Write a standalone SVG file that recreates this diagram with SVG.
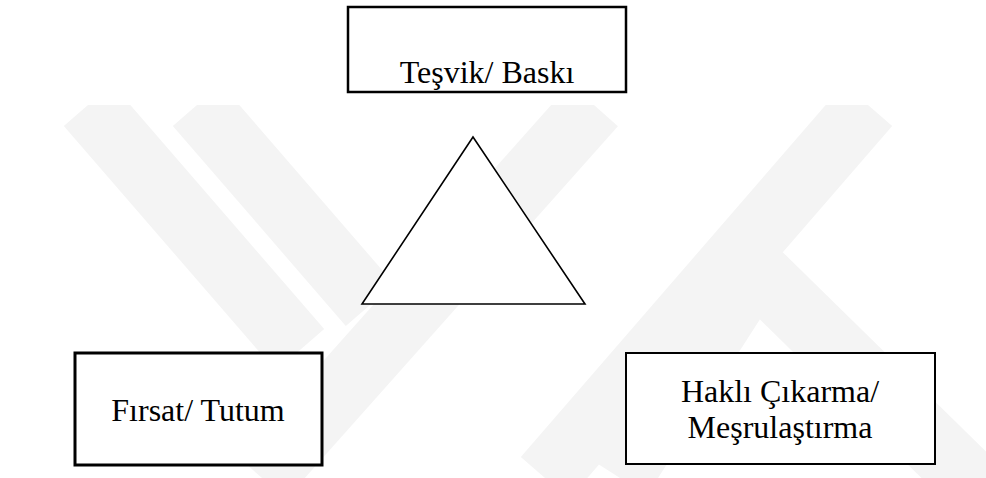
<svg xmlns="http://www.w3.org/2000/svg" width="986" height="478" viewBox="0 0 986 478">
  <style>
    .box { fill: #ffffff; stroke: #000000; }
    .label { font-family: 'Liberation Serif', 'DejaVu Serif', serif; font-size: 32px; fill: #000000; text-anchor: middle; }
    .mark { stroke: #f4f4f4; stroke-width: 64; fill: none; }
  </style>
  <defs>
    <clipPath id="markClip">
      <rect x="0" y="105" width="986" height="373"/>
    </clipPath>
  </defs>

  <!-- faint background emblem: diagonal bands -->
  <g id="emblem" clip-path="url(#markClip)">
    <line class="mark" x1="88" y1="105" x2="300" y2="350"/>
    <line class="mark" x1="197" y1="105" x2="370" y2="305"/>
    <line class="mark" x1="594" y1="105" x2="262" y2="478"/>
    <line class="mark" x1="868" y1="105" x2="545" y2="478"/>
    <line class="mark" x1="745" y1="260" x2="1010" y2="520"/>
    <line class="mark" x1="760" y1="260" x2="620" y2="478"/>
  </g>

  <g id="connectors"/>

  <g id="triangle">
    <polygon points="473,137 362,304 585,304" fill="#ffffff" stroke="#000000" stroke-width="1.6"/>
  </g>

  <g id="node-tesvik">
    <rect class="box" x="348" y="7" width="278" height="85" stroke-width="2.5"/>
    <text class="label" font-family="Liberation Serif, serif" x="487" y="83">Teşvik/ Baskı</text>
  </g>

  <g id="node-firsat">
    <rect class="box" x="75" y="353" width="247" height="112" stroke-width="3"/>
    <text class="label" font-family="Liberation Serif, serif" x="198" y="421">Fırsat/ Tutum</text>
  </g>

  <g id="node-hakli">
    <rect class="box" x="626" y="353" width="309" height="111" stroke-width="2"/>
    <text class="label" font-family="Liberation Serif, serif" x="780" y="402">Haklı Çıkarma/</text>
    <text class="label" font-family="Liberation Serif, serif" x="780" y="438">Meşrulaştırma</text>
  </g>
</svg>
